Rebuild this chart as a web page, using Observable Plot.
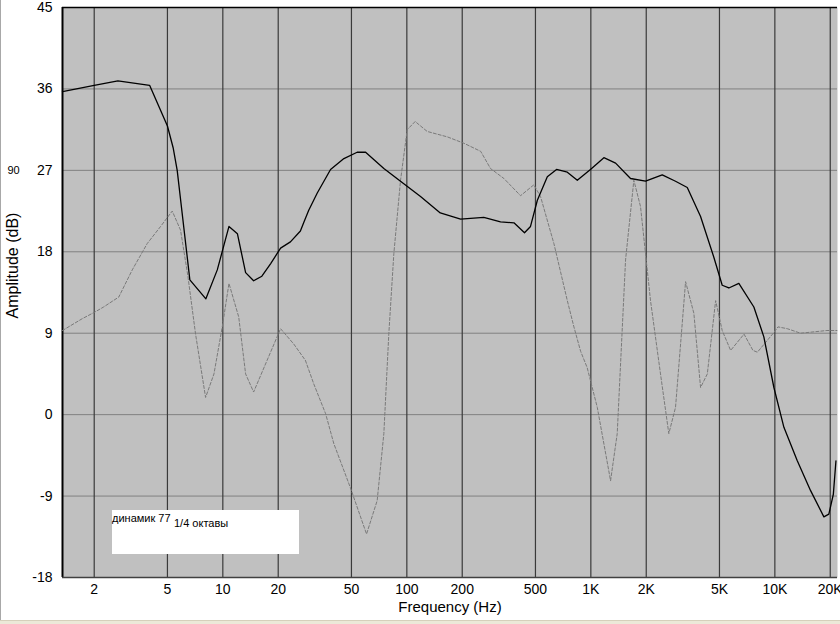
<!DOCTYPE html>
<html>
<head>
<meta charset="utf-8">
<script src="https://cdn.jsdelivr.net/npm/d3@7"></script>
<script src="https://cdn.jsdelivr.net/npm/@observablehq/plot@0.6"></script>
<style>
  html, body { margin: 0; padding: 0; background: #ffffff; }
  #wrap { position: relative; width: 840px; height: 624px; overflow: hidden; font-family: "Liberation Sans", Arial, sans-serif; }
  #leftline { position: absolute; left: 0; top: 0; width: 1px; height: 620px; background: #a8a8a8; }
  #strip { position: absolute; left: 0; top: 620px; width: 840px; height: 4px; background: #ece9d8; border-top: 1px solid #d6d0bb; }
  #legend { position: absolute; left: 112px; top: 510px; width: 187px; height: 44px; background: #ffffff; }
  #legend .a { position: absolute; left: 0px; top: 2px; font-size: 11px; color: #000; white-space: nowrap; }
  #legend .b { position: absolute; left: 62px; top: 7px; font-size: 11px; color: #000; white-space: nowrap; }
</style>
</head>
<body>
<div id="wrap">
  <div id="chart"></div>
  <div id="leftline"></div>
  <div id="strip"></div>
  <div id="legend"><span class="a">динамик 77</span><span class="b">1/4 октавы</span></div>
</div>
<script>
// Solid black response curve (Hz, dB)
const solidFreq = [1.345, 2, 2.69, 4.0, 5.0, 5.37, 5.65, 6.62, 8.09, 9.33, 10.8, 12.0, 13.3, 14.7, 16.3, 18.2, 20.6, 23.3, 26.4, 27.6, 29.3, 32.6, 38.5, 45.5, 53.7, 59.7, 75, 92.4, 118.7, 152, 196, 262, 323, 382, 436, 470, 512, 580, 651, 745, 844, 995, 1177, 1363, 1643, 1983, 2443, 2885, 3342, 3947, 4660, 5175, 5623, 6372, 7690, 8713, 9880, 11200, 13240, 15640, 18470, 19650, 20790, 21480];
const solidDb   = [35.7, 36.4, 36.9, 36.4, 31.9, 29.5, 27.0, 14.9, 12.8, 16.0, 20.8, 20.0, 15.7, 14.8, 15.3, 16.7, 18.4, 19.1, 20.3, 21.3, 22.6, 24.5, 27.1, 28.3, 29.0, 29.0, 27.2, 25.8, 24.1, 22.3, 21.6, 21.8, 21.3, 21.2, 20.1, 20.8, 23.7, 26.3, 27.1, 26.8, 25.9, 27.1, 28.4, 27.8, 26.1, 25.8, 26.5, 25.8, 25.1, 21.9, 17.4, 14.3, 14.0, 14.5, 11.9, 8.6, 3.0, -1.4, -5.1, -8.4, -11.3, -11.0, -8.8, -5.1];

// Dotted grey curve (Hz, dB)
const dashFreq = [1.345, 1.72, 2, 2.25, 2.72, 3.22, 3.88, 4.59, 5.31, 5.89, 6.45, 7.11, 8.06, 8.95, 9.93, 10.8, 12.2, 13.3, 14.7, 17.4, 20.6, 24.3, 28.1, 31.2, 36.2, 40.1, 49.4, 60.4, 69, 75, 79.8, 85, 92.4, 100.5, 111, 129, 166, 204, 252, 285, 337, 415, 490, 533, 630, 745, 809, 880, 955, 1084, 1280, 1391, 1544, 1713, 1862, 2110, 2391, 2653, 2885, 3272, 3630, 3947, 4295, 4766, 5175, 5750, 6800, 7600, 8035, 9900, 10400, 11680, 13800, 19190, 21730];
const dashDb   = [9.3, 10.6, 11.3, 11.9, 13.0, 16.0, 18.9, 20.8, 22.5, 20.4, 15.4, 8.9, 1.9, 4.5, 9.7, 14.5, 10.8, 4.5, 2.5, 6.0, 9.5, 7.8, 6.0, 3.4, 0.1, -3.2, -8.1, -13.2, -9.5, -2.1, 8.9, 17.8, 25.9, 31.5, 32.4, 31.3, 30.7, 30.0, 29.1, 27.2, 26.1, 24.2, 25.4, 24.1, 18.9, 12.6, 9.7, 7.0, 5.2, 0.8, -7.3, -2.1, 17.1, 25.9, 23.0, 12.6, 4.5, -2.1, 0.8, 14.7, 11.2, 3.0, 4.5, 12.6, 9.3, 7.1, 8.9, 7.1, 6.9, 9.1, 9.7, 9.5, 9.0, 9.3, 9.3];

// Axes
const xTicks = [2, 5, 10, 20, 50, 100, 200, 500, 1000, 2000, 5000, 10000, 20000];
const xTickLabels = ["2", "5", "10", "20", "50", "100", "200", "500", "1K", "2K", "5K", "10K", "20K"];
const yTicks = [-18, -9, 0, 9, 18, 27, 36, 45];
const xDomain = [1.345, 21900];
const yDomain = [-18, 45];
const xTitle = "Frequency (Hz)";
const yTitle = "Amplitude (dB)";
const sideNote = [{db: 27, label: "90"}];

const solid = solidFreq.map((f, i) => ({f, db: solidDb[i]}));
const dashed = dashFreq.map((f, i) => ({f, db: dashDb[i]}));
const xTickData = xTicks.map((f, i) => ({f, label: xTickLabels[i]}));

const chart = Plot.plot({
  width: 840,
  height: 620,
  marginLeft: 62,
  marginRight: 3,
  marginTop: 7,
  marginBottom: 43,
  style: {background: "#ffffff", fontFamily: "'Liberation Sans', Arial, sans-serif", fontSize: "14px", color: "#000"},
  x: {type: "log", domain: xDomain, axis: null},
  y: {domain: yDomain, ticks: yTicks, tickFormat: d => String(d), tickSize: 0, tickPadding: 10, label: null},
  marks: [
    Plot.frame({fill: "#c0c0c0", stroke: null}),
    Plot.ruleY(yTicks, {stroke: "#808080", strokeWidth: 1}),
    Plot.ruleX(xTicks, {stroke: "#3a3a3a", strokeWidth: 1.2}),
    Plot.ruleX([xDomain[0]], {stroke: "#000", strokeWidth: 2}),
    Plot.ruleY([yDomain[0]], {stroke: "#404040", strokeWidth: 1.5}),
    Plot.ruleY([yDomain[1]], {stroke: "#000", strokeWidth: 1.5}),
    Plot.line(dashed, {x: "f", y: "db", stroke: "#7a7a7a", strokeWidth: 1, strokeDasharray: "3,2"}),
    Plot.line(solid, {x: "f", y: "db", stroke: "#000", strokeWidth: 1.3}),
    Plot.text(xTickData, {x: "f", text: "label", frameAnchor: "bottom", lineAnchor: "middle", dy: 12, fontSize: 14, fill: "#000"}),
    Plot.text([xTitle], {frameAnchor: "bottom", lineAnchor: "middle", textAnchor: "middle", dy: 30, fontSize: 15, fill: "#000"}),
    Plot.text([yTitle], {frameAnchor: "left", textAnchor: "middle", lineAnchor: "middle", rotate: -90, dx: -50, dy: -27, fontSize: 16, fill: "#000"}),
    Plot.text(sideNote, {y: "db", text: "label", frameAnchor: "left", textAnchor: "middle", dx: -49, fontSize: 11, fill: "#000"})
  ]
});
document.getElementById("chart").appendChild(chart);
</script>
</body>
</html>
